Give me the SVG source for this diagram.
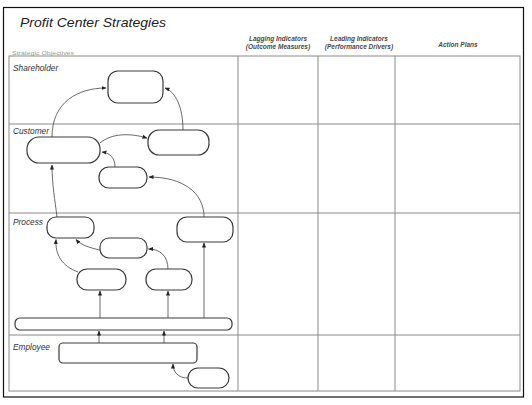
<svg xmlns="http://www.w3.org/2000/svg" width="532" height="405" viewBox="0 0 532 405">
<style>
.grid{stroke:#8a8a8a;stroke-width:1;fill:none}
.node rect{fill:#fff;stroke:#3a3a3a;stroke-width:1.2}
.lbl{font-family:"Liberation Sans",Arial,sans-serif;font-style:italic;font-size:8.3px;fill:#333}
.hdr{font-family:"Liberation Sans",Arial,sans-serif;font-style:italic;font-weight:bold;font-size:6.5px;fill:#4a4a4a;text-anchor:middle}
.con path{fill:none;stroke:#444;stroke-width:0.8;marker-end:url(#ah)}
</style>
<defs>
<marker id="ah" viewBox="0 0 10 10" refX="9" refY="5" markerWidth="5" markerHeight="5" orient="auto" markerUnits="userSpaceOnUse">
<path d="M0,1 L10,5 L0,9 Z" fill="#222"/>
</marker>
</defs>
<rect x="0" y="0" width="532" height="405" fill="#fff"/>
<rect x="3.5" y="7.5" width="520" height="389.5" fill="none" stroke="#111" stroke-width="1.2"/>
<text x="20" y="27" font-family="Liberation Sans,Arial,sans-serif" font-style="italic" font-size="13" fill="#222" textLength="146" lengthAdjust="spacingAndGlyphs">Profit Center Strategies</text>
<text x="12" y="55" font-family="Liberation Sans,Arial,sans-serif" font-size="5.5" fill="#999" textLength="62" lengthAdjust="spacingAndGlyphs">Strategic Objectives</text>
<g id="headers">
<text class="hdr" x="278" y="41">Lagging Indicators</text>
<text class="hdr" x="278" y="49">(Outcome Measures)</text>
<text class="hdr" x="359" y="41">Leading Indicators</text>
<text class="hdr" x="359" y="49">(Performance Drivers)</text>
<text class="hdr" x="458" y="47">Action Plans</text>
</g>
<g id="grid" class="grid">
<rect x="9" y="56" width="511" height="335"/>
<line x1="238" y1="56" x2="238" y2="391"/>
<line x1="318" y1="56" x2="318" y2="391"/>
<line x1="395" y1="56" x2="395" y2="391"/>
<line x1="9" y1="124" x2="520" y2="124"/>
<line x1="9" y1="213" x2="520" y2="213"/>
<line x1="9" y1="335" x2="520" y2="335"/>
</g>
<g id="row-labels">
<text class="lbl" x="13" y="71">Shareholder</text>
<text class="lbl" x="13" y="134">Customer</text>
<text class="lbl" x="13" y="225">Process</text>
<text class="lbl" x="13" y="350">Employee</text>
</g>
<g id="connectors" class="con">
<path d="M52,137 C52,102 78,88 106,88"/>
<path d="M183,130 C183,108 176,92 165,88"/>
<path d="M100,143 C112,133 130,133 147,138"/>
<path d="M115,167 C115,158 110,153 102,152"/>
<path d="M204,217 C204,192 182,177 149,177"/>
<path d="M57,217 C55,200 52,185 52,165"/>
<path d="M78,272 C62,266 55,255 56,239.5"/>
<path d="M100,250 C90,248 81,245 76,239.5"/>
<path d="M168,269 C168,256 160,249 148.5,249"/>
<path d="M100,318 L100,291"/>
<path d="M168,318 L168,291"/>
<path d="M204,318 L204,243"/>
<path d="M99,343 L99,331"/>
<path d="M164,343 L164,331"/>
<path d="M188,378 C178,378 173,372 173,364"/>
</g>
<g id="n-shareholder" class="node"><rect x="108" y="71" width="55" height="32" rx="10"/></g>
<g id="n-cust-main" class="node"><rect x="27" y="137" width="73" height="26" rx="12"/></g>
<g id="n-cust-right" class="node"><rect x="148" y="130" width="61" height="25" rx="11"/></g>
<g id="n-cust-small" class="node"><rect x="99" y="167" width="48" height="21" rx="10"/></g>
<g id="n-proc-1" class="node"><rect x="47" y="217" width="47" height="21" rx="9"/></g>
<g id="n-proc-right" class="node"><rect x="177" y="217" width="56" height="25" rx="10"/></g>
<g id="n-proc-mid" class="node"><rect x="100" y="238" width="47" height="20" rx="9"/></g>
<g id="n-proc-ll" class="node"><rect x="77" y="269" width="49" height="21" rx="10"/></g>
<g id="n-proc-lr" class="node"><rect x="146" y="269" width="46" height="21" rx="10"/></g>
<g id="n-bar" class="node"><rect x="15" y="318" width="217" height="12" rx="5"/></g>
<g id="n-emp-main" class="node"><rect x="59" y="343" width="138" height="20" rx="4"/></g>
<g id="n-emp-small" class="node"><rect x="188" y="368" width="41" height="20" rx="10"/></g>
</svg>
